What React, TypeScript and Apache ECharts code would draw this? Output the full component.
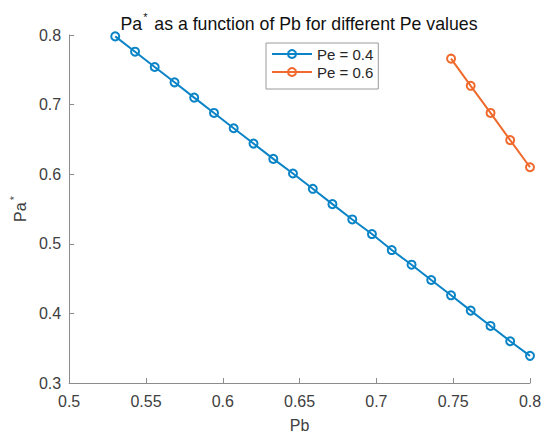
import React, { useEffect, useRef } from "react";
import * as echarts from "echarts";

const pbValues = [
  0.53, 0.5429, 0.5557, 0.5686, 0.5814, 0.5943, 0.6071, 0.62, 0.6329, 0.6457, 0.6586,
  0.6714, 0.6843, 0.6971, 0.71, 0.7229, 0.7357, 0.7486, 0.7614, 0.7743, 0.7871, 0.8,
];
const paPe04 = [
  0.798, 0.776, 0.754, 0.732, 0.71, 0.688, 0.666, 0.644, 0.622, 0.601, 0.579,
  0.557, 0.535, 0.514, 0.491, 0.47, 0.448, 0.426, 0.404, 0.382, 0.36, 0.339,
];
const pbPe06 = [0.7486, 0.7614, 0.7743, 0.7871, 0.8];
const paPe06 = [0.766, 0.727, 0.688, 0.649, 0.61];
const seriesNames = ["Pe = 0.4", "Pe = 0.6"];
const titleText = " as a function of Pb for different Pe values";

const BLUE = "#0a84c6";
const ORANGE = "#ef6a2c";
const AXIS = "#8c8c8c";
const TEXT = "#404040";
const FONT = "'Liberation Sans', Arial, Helvetica, sans-serif";

export default function App() {
  const ref = useRef<HTMLDivElement>(null);
  useEffect(() => {
    const chart = echarts.init(ref.current!, null, { renderer: "svg" });
    const lineSeries = (name: string, xs: number[], ys: number[], color: string) => ({
      type: "line",
      name,
      data: xs.map((x, i) => [x, ys[i]]),
      symbol: "circle",
      symbolSize: 8,
      showAllSymbol: true,
      lineStyle: { color, width: 2 },
      itemStyle: { color: "rgba(255,255,255,0)", borderColor: color, borderWidth: 2 },
      emphasis: { disabled: true },
    });
    chart.setOption({
      animation: false,
      backgroundColor: "#ffffff",
      textStyle: { fontFamily: FONT },
      grid: { left: 68, right: 20, top: 35, bottom: 60, containLabel: false },
      graphic: [
        {
          type: "text",
          x: 299,
          y: 22,
          style: {
            text: "{a|Pa}{s|*}{a|" + titleText + "}",
            align: "center",
            verticalAlign: "middle",
            rich: {
              a: { fontSize: 17.7, fontFamily: FONT, fill: "#111", lineHeight: 22, verticalAlign: "bottom" },
              s: { fontSize: 11, fontFamily: FONT, fill: "#111", lineHeight: 22, verticalAlign: "top", padding: [0, 2, 0, 1] },
            },
          },
        },
      ],
      legend: {
        orient: "vertical",
        left: 266,
        top: 43,
        itemWidth: 40,
        itemHeight: 10,
        itemGap: 2,
        padding: [3, 5, 9, 5],
        borderColor: "#9a9a9a",
        borderWidth: 1,
        backgroundColor: "#ffffff",
        textStyle: { fontSize: 15, color: "#262626", fontFamily: FONT, lineHeight: 16 },
        data: seriesNames,
      },
      xAxis: {
        type: "value",
        min: 0.5,
        max: 0.8,
        interval: 0.05,
        name: "Pb",
        nameLocation: "middle",
        nameGap: 34,
        nameTextStyle: { fontSize: 16, color: TEXT, fontFamily: FONT },
        axisLine: { show: true, onZero: false, lineStyle: { color: AXIS, width: 1 } },
        axisTick: { show: true, inside: true, length: 5, lineStyle: { color: AXIS } },
        axisLabel: { fontSize: 16, color: TEXT, margin: 10, fontFamily: FONT },
        splitLine: { show: false },
      },
      yAxis: {
        type: "value",
        min: 0.3,
        max: 0.8,
        interval: 0.1,
        name: "{a|Pa}{s|*}",
        nameLocation: "middle",
        nameGap: 33,
        nameRotate: 90,
        nameTextStyle: {
          color: TEXT,
          rich: {
            a: { fontSize: 16, color: TEXT, fontFamily: FONT, lineHeight: 20, verticalAlign: "bottom" },
            s: { fontSize: 11, color: TEXT, fontFamily: FONT, lineHeight: 20, verticalAlign: "top", padding: [0, 0, 0, 2] },
          },
        },
        axisLine: { show: true, onZero: false, lineStyle: { color: AXIS, width: 1 } },
        axisTick: { show: true, inside: true, length: 5, lineStyle: { color: AXIS } },
        axisLabel: { fontSize: 16, color: TEXT, margin: 8, fontFamily: FONT },
        splitLine: { show: false },
      },
      series: [
        lineSeries(seriesNames[0], pbValues, paPe04, BLUE),
        lineSeries(seriesNames[1], pbPe06, paPe06, ORANGE),
      ],
    });
    return () => chart.dispose();
  }, []);
  return (
    <div
      ref={ref}
      style={{ position: "absolute", left: 0, top: 0, width: 550, height: 443, background: "#fff" }}
    />
  );
}
